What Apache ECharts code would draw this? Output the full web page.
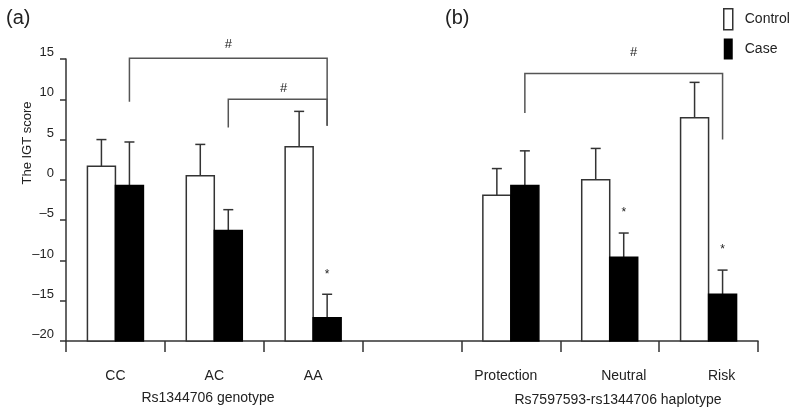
<!DOCTYPE html>
<html>
<head>
<meta charset="utf-8">
<script src="https://cdn.jsdelivr.net/npm/echarts@6/dist/echarts.min.js"></script>
<style>
  html, body { margin: 0; padding: 0; background: #fff; }
  #chart { width: 793px; height: 412px; }
</style>
</head>
<body>
<div id="chart"></div>
<script>
const categories = ["CC", "AC", "AA", "", "Protection", "Neutral", "Risk"];
const controlMean = [1.7, 0.5, 4.1, null, -1.9, 0.0, 7.7];
const controlErr = [3.3, 3.9, 4.4, null, 3.3, 3.9, 4.4];
const caseMean = [-0.7, -6.3, -17.1, null, -0.7, -9.6, -14.2];
const caseErr = [5.4, 2.6, 2.9, null, 4.3, 3.0, 3.0];
const starred = ["AA", "Neutral", "Risk"];

// significance brackets between case bars
const bracketFrom = ["CC", "AC", "Protection"];
const bracketTo = ["AA", "AA", "Risk"];
const bracketTop = [15.1, 10.0, 13.2];
const bracketLeftEnd = [9.7, 6.5, 8.3];
const bracketRightEnd = [6.7, 6.7, 5.0];

const yTicks = [-20, -15, -10, -5, 0, 5, 10, 15];

const Y_MIN = yTicks[0];
const BAR_W = 28;
const FONT = "'Liberation Sans', Arial, sans-serif";
const INK = "#333";

// nudges for the "#" marks and the x labels, in px
const hashShift = [[0, 14], [6, 11], [10, 21]];
const labelShift = { Protection: -5, Neutral: 14, Risk: 13 };

const chart = echarts.init(document.getElementById("chart"), null, { width: 793, height: 412 });

const toData = (means, errs) => {
    const out = [];
    means.forEach((m, i) => {
        if (m !== null) out.push([i, m, errs[i]]);
    });
    return out;
};

// side: -1 = left bar (control), +1 = right bar (case)
const barRenderer = (side, fill) => (params, api) => {
    const cat = api.value(0);
    const v = api.value(1);
    const e = api.value(2);
    const base = api.coord([cat, Y_MIN]);
    const top = api.coord([cat, v]);
    const errTop = api.coord([cat, v + e]);
    const x0 = side < 0 ? base[0] - BAR_W : base[0];
    const cx = x0 + BAR_W / 2;
    const children = [
        {
            type: "line",
            shape: { x1: cx, y1: top[1], x2: cx, y2: errTop[1] },
            style: { stroke: INK, lineWidth: 1.5 },
        },
        {
            type: "line",
            shape: { x1: cx - 5, y1: errTop[1], x2: cx + 5, y2: errTop[1] },
            style: { stroke: INK, lineWidth: 1.5 },
        },
        {
            type: "rect",
            shape: { x: x0, y: top[1], width: BAR_W, height: base[1] - top[1] },
            style: { fill: fill, stroke: fill === "#000" ? "#000" : INK, lineWidth: 1.5 },
        },
    ];
    if (side > 0 && starred.includes(categories[cat])) {
        children.push({
            type: "text",
            style: {
                x: cx, y: errTop[1] - 20, text: "*", fill: "#222",
                font: "12px " + FONT, align: "center", verticalAlign: "middle",
            },
        });
    }
    return { type: "group", children: children };
};

const bracketData = bracketFrom.map((f, i) => [
    categories.indexOf(f), categories.indexOf(bracketTo[i]),
    bracketTop[i], bracketLeftEnd[i], bracketRightEnd[i],
]);

const bracketRenderer = (params, api) => {
    const top = api.value(2);
    const l = api.coord([api.value(0), top]);
    const r = api.coord([api.value(1), top]);
    const xl = l[0] + BAR_W / 2;
    const xr = r[0] + BAR_W / 2;
    const yl = api.coord([api.value(0), api.value(3)])[1];
    const yr = api.coord([api.value(1), api.value(4)])[1];
    const shift = hashShift[params.dataIndex];
    return {
        type: "group",
        children: [
            {
                type: "polyline",
                shape: { points: [[xl, yl], [xl, l[1]], [xr, l[1]], [xr, yr]] },
                style: { stroke: "#555", lineWidth: 1.5, fill: null },
            },
            {
                type: "text",
                style: {
                    x: (xl + xr) / 2 + shift[0], y: l[1] - shift[1], text: "#", fill: "#222",
                    font: "13px " + FONT, align: "center", verticalAlign: "middle",
                },
            },
        ],
    };
};

const rich = {};
Object.keys(labelShift).forEach((k) => {
    const s = labelShift[k];
    rich[k] = {
        fontSize: 14, color: "#222", fontFamily: FONT,
        padding: s > 0 ? [0, 0, 0, 2 * s] : [0, -2 * s, 0, 0],
    };
});

const option = {
    animation: false,
    textStyle: { fontFamily: FONT },
    grid: { left: 66, right: 35, top: 59, bottom: 71, containLabel: false },
    legend: {
        orient: "vertical",
        left: 718,
        top: 3,
        itemWidth: 9,
        itemHeight: 21,
        itemGap: 8,
        icon: "rect",
        textStyle: { fontSize: 14, color: "#222", fontFamily: FONT, padding: [0, 0, 0, 7] },
        data: [
            { name: "Control", itemStyle: { color: "#fff", borderColor: INK, borderWidth: 1.5 } },
            { name: "Case", itemStyle: { color: "#000", borderColor: "#000", borderWidth: 0 } },
        ],
    },
    xAxis: {
        type: "category",
        data: categories,
        axisLine: { onZero: false, lineStyle: { color: INK, width: 1.5 } },
        axisTick: { show: true, interval: 0, length: 11, lineStyle: { color: INK, width: 1.5 } },
        axisLabel: {
            interval: 0, fontSize: 14, color: "#222", margin: 28, fontFamily: FONT,
            formatter: (v) => (labelShift[v] !== undefined ? "{" + v + "|" + v + "}" : v),
            rich: rich,
        },
        splitLine: { show: false },
    },
    yAxis: {
        type: "value",
        min: Y_MIN,
        max: yTicks[yTicks.length - 1],
        interval: 5,
        axisLine: { show: true, lineStyle: { color: INK, width: 1.5 } },
        axisTick: { show: true, length: 6, lineStyle: { color: INK, width: 1.5 } },
        axisLabel: {
            fontSize: 13, color: "#222", margin: 12, fontFamily: FONT,
            verticalAlign: "bottom",
            formatter: (v) => String(v).replace("-", "\u2013"),
        },
        splitLine: { show: false },
    },
    graphic: [
        { type: "text", left: 6, top: 8, style: { text: "(a)", font: "20px " + FONT, fill: "#222" } },
        { type: "text", left: 445, top: 8, style: { text: "(b)", font: "20px " + FONT, fill: "#222" } },
        {
            type: "text", x: 27, y: 143, rotation: Math.PI / 2,
            style: { text: "The IGT score", font: "13px " + FONT, fill: "#222", align: "center", verticalAlign: "middle" },
        },
        {
            type: "text", x: 208, y: 398,
            style: { text: "Rs1344706 genotype", font: "14px " + FONT, fill: "#222", align: "center", verticalAlign: "middle" },
        },
        {
            type: "text", x: 618, y: 400,
            style: { text: "Rs7597593-rs1344706 haplotype", font: "14px " + FONT, fill: "#222", align: "center", verticalAlign: "middle" },
        },
    ],
    series: [
        {
            name: "Control",
            type: "custom",
            renderItem: barRenderer(-1, "#fff"),
            encode: { x: 0, y: [1, 2] },
            itemStyle: { color: "#fff", borderColor: INK, borderWidth: 1.5 },
            data: toData(controlMean, controlErr),
            z: 3,
        },
        {
            name: "Case",
            type: "custom",
            renderItem: barRenderer(1, "#000"),
            encode: { x: 0, y: [1, 2] },
            itemStyle: { color: "#000" },
            data: toData(caseMean, caseErr),
            z: 3,
        },
        {
            name: "brackets",
            type: "custom",
            renderItem: bracketRenderer,
            encode: { x: [0, 1], y: [2, 3, 4] },
            data: bracketData,
            silent: true,
            z: 2,
        },
    ],
};

chart.setOption(option);
</script>
</body>
</html>
